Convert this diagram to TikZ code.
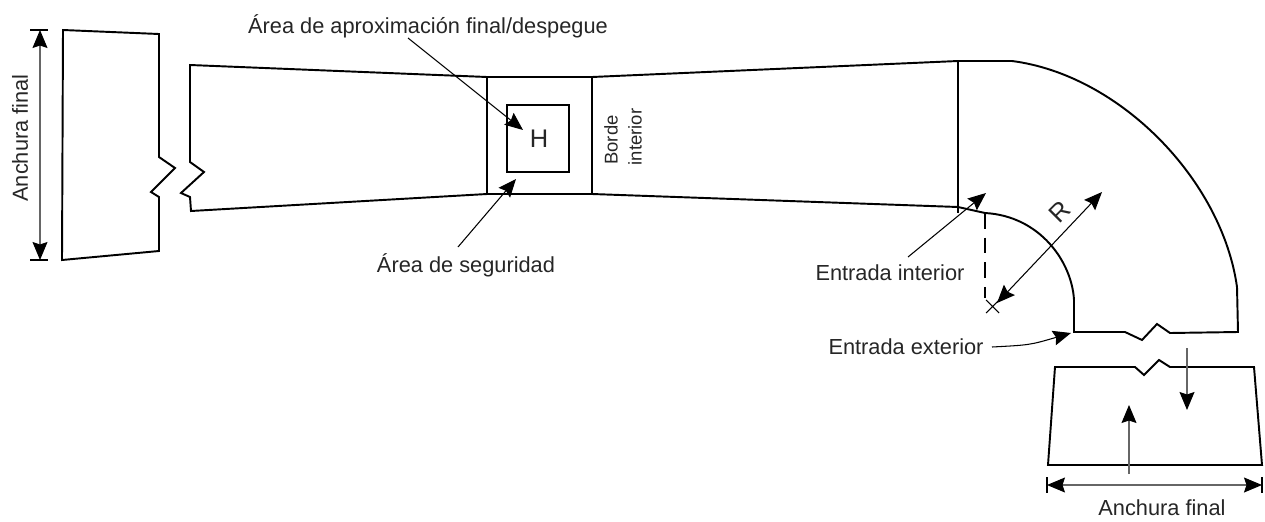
\documentclass[tikz,border=0pt]{standalone}
\usepackage{fontspec}
\setmainfont{Liberation Sans}
\usetikzlibrary{arrows.meta}
\tikzset{
	tip/.tip={Stealth[length=3.6mm,width=3mm,inset=0.5mm,color=black]},
	edgeline/.style={line width=1.1pt,line join=miter},
	leader/.style={line width=0.6pt,tip-},
	dimline/.style={line width=0.6pt,color=black!60,tip-tip},
	sizearrow/.style={line width=0.6pt,color=black!60,-tip},
	dimbar/.style={line width=0.8pt},
	lbl/.style={font=\fontsize{12.4}{14}\selectfont,text=black!85,inner sep=0pt},
	biglbl/.style={font=\fontsize{14.5}{16}\selectfont,text=black!85,inner sep=0pt},
	smalllbl/.style={font=\fontsize{10.5}{12}\selectfont,text=black!85,inner sep=0pt,rotate=90}
}
\begin{document}
\begin{tikzpicture}[x=0.02cm,y=-0.02cm]
	\useasboundingbox (0,0) rectangle (1265,521);
	% left piece
	\draw[edgeline] (63,30)--(159,34)--(159,157)--(175,168)--(151,192)--(159,197)--(159,251)--(62,260)--cycle;
	\coordinate (wt) at (40,30);
	\coordinate (wb) at (40,260);
	\draw[dimbar] (30,30)--(48,30) (30,260)--(48,260);
	\draw[dimline] (wt)--(wb);
	\node[lbl,rotate=90] (widthleft) at (20,138) {Anchura final};
	% main strip
	\draw[edgeline] (958,61)--(592,77)--(487,77)--(190,65)--(190,162)--(204,172)--(181,193)--(190,197)--(191,211)--(487,194)--(592,194)--(958,207)--(985,213);
	\draw[edgeline] (487,77)--(487,194) (592,77)--(592,194) (958,61)--(958,213);
	\draw[edgeline] (507,105) rectangle (569,172);
	\node[biglbl] (helipad) at (539,139) {H};
	% curve
	\draw[edgeline] (985,213) .. controls (1040,216) and (1072,262) .. (1074,300)--(1074,332)--(1125,332)--(1142,340)--(1157,324)--(1170,333)--(1238,332)--(1237,287) .. controls (1222,180) and (1120,75) .. (1012,61)--(958,61);
	\draw[line width=0.8pt,dashed,dash pattern=on 9pt off 5pt] (985,213)--(985,298);
	\draw[line width=0.6pt] (986,300)--(999,313) (986,313)--(999,300);
	\coordinate (rin) at (997,303);
	\coordinate (rout) at (1102,192);
	\draw[line width=0.6pt,tip-tip] (rin)--(rout);
	\node[biglbl,rotate=45] (radius) at (1060,212) {R};
	% end piece
	\draw[edgeline] (1055,367)--(1135,367)--(1144,375)--(1159,360)--(1170,367)--(1254,367)--(1262,465)--(1048,465)--cycle;
	\coordinate (dn1) at (1187,348);
	\coordinate (dn2) at (1187,410);
	\coordinate (up1) at (1129,474);
	\coordinate (up2) at (1129,405);
	\draw[sizearrow] (dn1)--(dn2);
	\draw[sizearrow] (up1)--(up2);
	\coordinate (bl) at (1047,485);
	\coordinate (br) at (1262,485);
	\draw[dimbar] (1047,477)--(1047,493) (1262,477)--(1262,493);
	\draw[dimline] (bl)--(br);
	\node[lbl] (widthbottom) at (1162,508) {Anchura final};
	% labels
	\node[lbl] (tlof) at (428,26) {Área de aproximación final/despegue};
	\coordinate (tloftip) at (523,130);
	\draw[leader] (tloftip)--(408,38);
	\node[lbl] (safety) at (466,265) {Área de seguridad};
	\coordinate (safetytip) at (516,179);
	\draw[leader] (safetytip)--(458,247);
	\node[smalllbl] (edge1) at (611,140) {Borde};
	\node[smalllbl] (edge2) at (635,137) {interior};
	\node[lbl] (entin) at (890,273) {Entrada interior};
	\coordinate (entintip) at (986,193);
	\draw[leader] (entintip)--(908,257);
	\node[lbl] (entout) at (906,347) {Entrada exterior};
	\coordinate (entouttip) at (1071,333);
	\draw[leader] (entouttip) .. controls (1030,345) .. (992,347);
\end{tikzpicture}
\end{document}
